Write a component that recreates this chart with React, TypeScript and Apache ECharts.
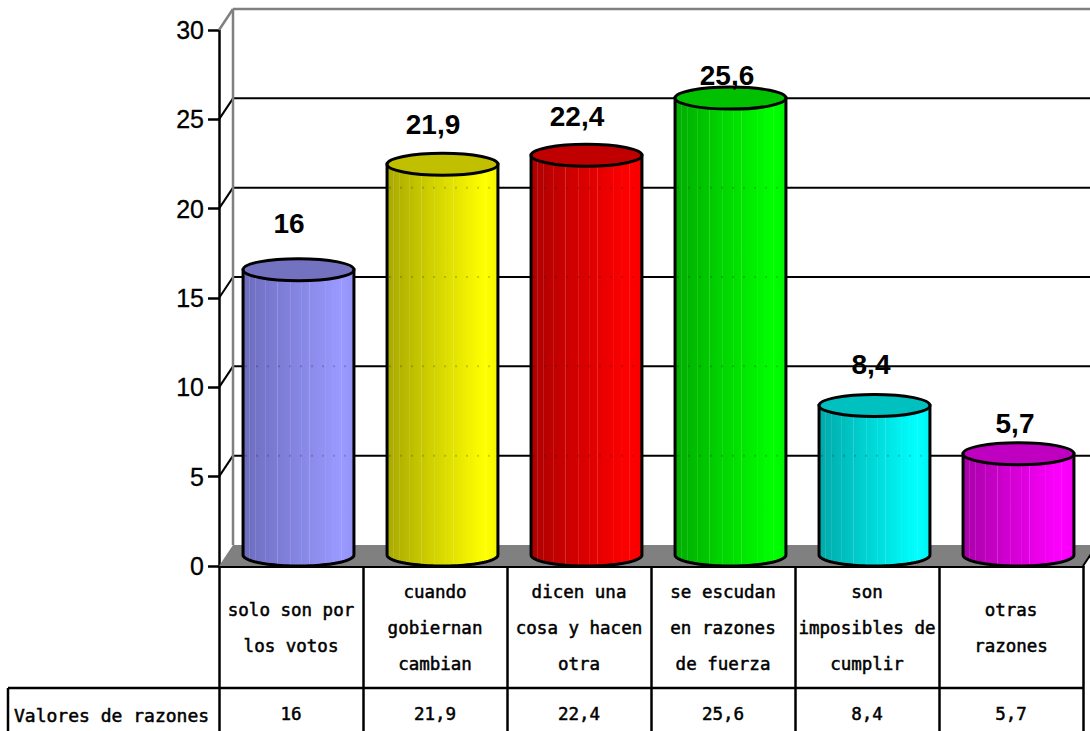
import React, { useEffect, useRef } from "react";
import * as echarts from "echarts";

const categories = [
  "solo son por\nlos votos",
  "cuando\ngobiernan\ncambian",
  "dicen una\ncosa y hacen\notra",
  "se escudan\nen razones\nde fuerza",
  "son\nimposibles de\ncumplir",
  "otras\nrazones",
];
const values = [16, 21.9, 22.4, 25.6, 8.4, 5.7];
const valueLabels = ["16", "21,9", "22,4", "25,6", "8,4", "5,7"];
const gridValues = [0, 5, 10, 15, 20, 25, 30];
const rowTitle = "Valores de razones";

// styles
const bodyDark = ["#6c6cbe", "#a8a800", "#ac0000", "#00ac00", "#00a8a8", "#a800a8"];
const bodyBright = ["#9999ff", "#ffff00", "#ff0000", "#00ff00", "#00ffff", "#ff00ff"];
const topColor = ["#7272c0", "#c0c000", "#c00000", "#00c000", "#00c0c0", "#c000c0"];
const labelDx = [-2, -2, -2, 4, 4, 4];
const labelLift = [57, 50, 49, 33, 51, 41];

const DEPTH_X = 14;
const DEPTH_Y = 21;
const textFont = "'DejaVu Sans Mono'";
const numFont = "'Liberation Sans'";

function stripes(dark: string, bright: string) {
  const stops: { offset: number; color: string }[] = [];
  const d = echarts.color.parse(dark);
  const b = echarts.color.parse(bright);
  const mix = (t: number, k = 0) =>
    `rgb(${[0, 1, 2]
      .map((i) => Math.round(d[i] + (b[i] - d[i]) * t + (255 - (d[i] + (b[i] - d[i]) * t)) * k))
      .join(",")})`;
  const seams = [0.06, 0.11, 0.2, 0.31, 0.43, 0.53, 0.6, 0.74, 0.82, 0.89];
  stops.push({ offset: 0, color: mix(0) });
  seams.forEach((s) => {
    const t = Math.min(1, s / 0.88);
    stops.push({ offset: s - 0.005, color: mix(t) });
    stops.push({ offset: s, color: mix(t, 0.2) });
    stops.push({ offset: s + 0.005, color: mix(t) });
  });
  stops.push({ offset: 1, color: mix(0.85) });
  return { type: "linear", x: 0, y: 0, x2: 1, y2: 0, colorStops: stops };
}

function renderWall(params: any, api: any) {
  const v = api.value(1);
  const cs = params.coordSys;
  const y = api.coord([0, v])[1];
  const x0 = cs.x;
  const x1 = cs.x + DEPTH_X;
  const yb = y - DEPTH_Y;
  const xr = cs.x + cs.width + DEPTH_X;
  const isEdge = v === 0 || v === 30;
  const stroke = isEdge ? "#808080" : "#000";
  const lw = isEdge ? 2.5 : 2;
  const children: any[] = [];
  if (v === 0) {
    children.push({
      type: "polygon",
      shape: { points: [[x0, y], [x1, yb], [xr, yb], [cs.x + cs.width, y]] },
      style: { fill: "#808080" },
    });
    children.push({
      type: "line",
      shape: { x1: cs.x + cs.width, y1: y, x2: xr, y2: yb },
      style: { stroke: "#000", lineWidth: 2 },
    });
    return { type: "group", children };
  }
  if (v === 30) {
    const y0 = api.coord([0, 0])[1] - DEPTH_Y;
    children.push({
      type: "line",
      shape: { x1: x1, y1: yb, x2: x1, y2: y0 },
      style: { stroke, lineWidth: lw },
    });
  }
  children.push({ type: "line", shape: { x1: x0, y1: y, x2: x1, y2: yb }, style: { stroke, lineWidth: lw } });
  children.push({ type: "line", shape: { x1: x1, y1: yb, x2: xr, y2: yb }, style: { stroke, lineWidth: lw } });
  return { type: "group", children };
}

function renderCylinder(params: any, api: any) {
  const i = params.dataIndex;
  const v = api.value(1);
  const c = api.coord([i, v]);
  const base = api.coord([i, 0]);
  const band = api.size([1, 0])[0];
  const cx = c[0] + 7.5;
  const rx = (band * 0.77) / 2;
  const ry = 11;
  const yTop = c[1] - 10.5;
  const yBot = base[1] - 11;
  const pts: number[][] = [[cx - rx, yTop], [cx + rx, yTop]];
  for (let k = 0; k <= 48; k++) {
    const a = (Math.PI * k) / 48;
    pts.push([cx + rx * Math.cos(a), yBot + ry * Math.sin(a)]);
  }
  const showThrough = gridValues
    .filter((g) => g > 0 && api.coord([i, g])[1] - DEPTH_Y > yTop + ry)
    .map((g) => {
      const gy = api.coord([i, g])[1] - DEPTH_Y;
      return {
        type: "line",
        shape: { x1: cx - rx + 2, y1: gy, x2: cx + rx - 2, y2: gy },
        style: { stroke: "#000", lineWidth: 2, opacity: 0.18, lineDash: [2, 9] },
      };
    });
  return {
    type: "group",
    children: [
      {
        type: "polygon",
        shape: { points: pts },
        style: { fill: stripes(bodyDark[i], bodyBright[i]), stroke: "#000", lineWidth: 3 },
      },
      ...showThrough,
      {
        type: "ellipse",
        shape: { cx, cy: yTop, rx, ry },
        style: { fill: topColor[i], stroke: "#000", lineWidth: 3 },
      },
      {
        type: "text",
        style: {
          text: valueLabels[i],
          x: c[0] + labelDx[i],
          y: c[1] - labelLift[i],
          textAlign: "center",
          textVerticalAlign: "middle",
          fontFamily: numFont,
          fontWeight: "bold",
          fontSize: 28,
          fill: "#000",
        },
      },
    ],
  };
}

export default function App() {
  const ref = useRef<HTMLDivElement>(null);
  useEffect(() => {
    document.body.style.margin = "0";
    const chart = echarts.init(ref.current!, null, { renderer: "svg" });
    const cellText = {
      fontFamily: textFont,
      fontSize: 17.5,
      color: "#000",
      textBorderColor: "#000",
      textBorderWidth: 0.5,
    };
    chart.setOption({
      animation: false,
      backgroundColor: "#fff",
      grid: { left: 219, right: 7, top: 30, bottom: 165, containLabel: false },
      xAxis: [
        {
          type: "category",
          data: categories,
          position: "bottom",
          axisLine: { lineStyle: { color: "#000", width: 3 } },
          axisTick: { show: true, length: 165, alignWithLabel: false, lineStyle: { color: "#000", width: 2.5 } },
          axisLabel: {
            ...cellText,
            interval: 0,
            margin: 62,
            verticalAlign: "middle",
            lineHeight: 36,
            hideOverlap: false,
          },
        },
        {
          type: "category",
          data: valueLabels,
          position: "bottom",
          offset: 122,
          axisLine: { show: false },
          axisTick: { show: false },
          axisLabel: { ...cellText, interval: 0, margin: 26, verticalAlign: "middle" },
        },
      ],
      yAxis: {
        type: "value",
        min: 0,
        max: 30,
        interval: 5,
        splitLine: { show: false },
        axisLine: { show: true, lineStyle: { color: "#000", width: 2.5 } },
        axisTick: { show: true, length: 11, lineStyle: { color: "#000", width: 2.5 } },
        axisLabel: {
          margin: 15,
          fontFamily: numFont,
          fontSize: 25,
          color: "#000",
          textBorderColor: "#000",
          textBorderWidth: 0.3,
        },
      },
      graphic: [
        { type: "line", shape: { x1: 8, y1: 688, x2: 1083, y2: 688 }, style: { stroke: "#000", lineWidth: 2.5 } },
        { type: "line", shape: { x1: 8, y1: 688, x2: 8, y2: 731 }, style: { stroke: "#000", lineWidth: 2.5 } },
        {
          type: "text",
          x: 14,
          y: 715,
          style: {
            text: rowTitle,
            fontFamily: textFont,
            fontSize: 18,
            fill: "#000",
            stroke: "#000",
            lineWidth: 0.5,
            textVerticalAlign: "middle",
          },
        },
      ],
      series: [
        {
          type: "custom",
          coordinateSystem: "cartesian2d",
          clip: false,
          silent: true,
          renderItem: renderWall,
          data: gridValues.map((v) => [0, v]),
          encode: { x: 0, y: 1 },
          z: 1,
        },
        {
          type: "custom",
          coordinateSystem: "cartesian2d",
          clip: false,
          silent: true,
          renderItem: renderCylinder,
          data: values.map((v, i) => [i, v]),
          encode: { x: 0, y: 1 },
          z: 2,
        },
      ],
    });
    return () => chart.dispose();
  }, []);
  return <div ref={ref} style={{ width: 1090, height: 731, overflow: "hidden" }} />;
}
